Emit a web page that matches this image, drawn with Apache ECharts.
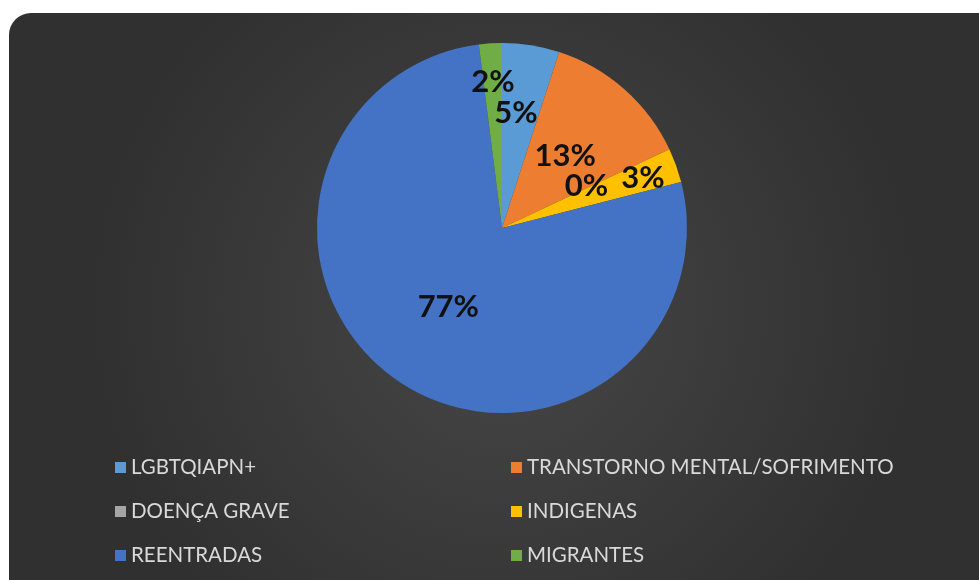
<!DOCTYPE html>
<html>
<head>
<meta charset="utf-8">
<script src="https://cdn.jsdelivr.net/npm/echarts@6/dist/echarts.min.js"></script>
<style>
html,body{margin:0;padding:0;background:#ffffff;}
#chart{width:979px;height:580px;}
</style>
</head>
<body>
<div id="chart"></div>
<script>
const categories = ['LGBTQIAPN+', 'TRANSTORNO MENTAL/SOFRIMENTO', 'DOENÇA GRAVE', 'INDIGENAS', 'REENTRADAS', 'MIGRANTES'];
const values = [5, 13, 0, 3, 77, 2];
const colors = ['#5B9BD5', '#ED7D31', '#A5A5A5', '#FFC000', '#4472C4', '#70AD47'];
const labelOffsets = [[-1, -21], [0, 0], [-2, -1], [51, -18], [0, 0], [-3, -51]];

const chart = echarts.init(document.getElementById('chart'));
const data = categories.map((c, i) => ({
  name: c,
  value: values[i],
  itemStyle: { color: colors[i] },
  label: { offset: labelOffsets[i] }
}));

const legendText = { color: '#d9d9d9', fontFamily: 'Lato', fontSize: 20.5 };

chart.setOption({
  backgroundColor: '#ffffff',
  graphic: [{
    type: 'rect',
    left: 9, top: 13,
    shape: { width: 990, height: 590, r: 22 },
    style: {
      fill: new echarts.graphic.RadialGradient(0.5, 0.5, 0.7, [
        { offset: 0, color: '#474747' },
        { offset: 1, color: '#303030' }
      ])
    },
    z: -10
  }],
  legend: [{
    orient: 'vertical',
    left: 110, top: 452,
    itemGap: 23,
    itemWidth: 11, itemHeight: 11,
    icon: 'rect',
    textStyle: legendText,
    data: [categories[0], categories[2], categories[4]]
  }, {
    orient: 'vertical',
    left: 506, top: 452,
    itemGap: 23,
    itemWidth: 11, itemHeight: 11,
    icon: 'rect',
    textStyle: legendText,
    data: [categories[1], categories[3], categories[5]]
  }],
  series: [{
    type: 'pie',
    center: [502, 228],
    radius: 185,
    startAngle: 90,
    clockwise: true,
    avoidLabelOverlap: false,
    minShowLabelAngle: -1,
    label: {
      show: true,
      position: 'inside',
      color: '#111111',
      fontFamily: 'Lato',
      fontWeight: 'bold',
      fontSize: 31,
      lineHeight: 24,
      formatter: p => Math.round(p.percent) + '%'
    },
    labelLayout: { hideOverlap: false },
    labelLine: { show: false },
    emphasis: { disabled: true },
    data: data
  }]
});
</script>
</body>
</html>
